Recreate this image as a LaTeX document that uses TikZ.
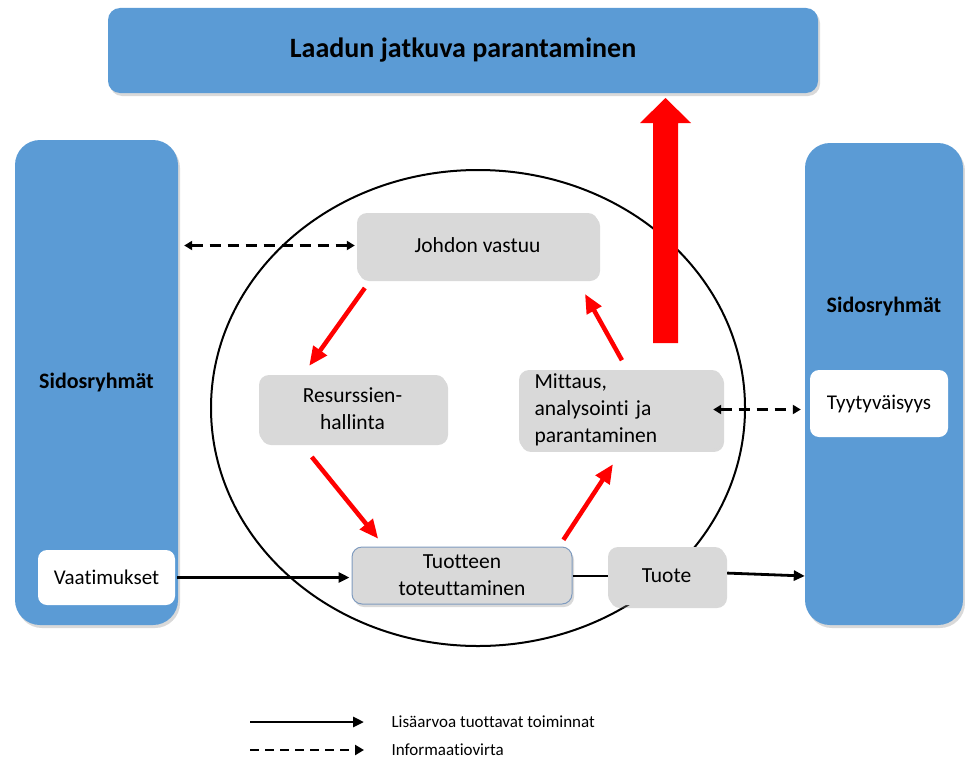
\documentclass[tikz,border=0pt]{standalone}
\usepackage{fontspec}
\setmainfont{Carlito}[Ligatures=NoCommon]
\usetikzlibrary{arrows.meta,shadows}
\usetikzlibrary{positioning,calc}
\definecolor{groupblue}{HTML}{5B9BD5}
\definecolor{boxgray}{HTML}{D9D9D9}
\definecolor{edgeblue}{HTML}{7F9BBF}

\begin{document}
\begin{tikzpicture}[x=1pt,y=-1pt]
	%defines
	\tikzstyle{quality} = [rectangle, rounded corners=12pt, minimum width=710pt, minimum height=85pt, text centered, fill=groupblue, drop shadow={shadow xshift=2pt, shadow yshift=-3pt, opacity=0.3}, font=\fontsize{28}{33}\selectfont\bfseries]
	\tikzstyle{group} = [rectangle, rounded corners=25pt, minimum width=163pt, minimum height=485pt, text centered, fill=groupblue, drop shadow={shadow xshift=2pt, shadow yshift=-3pt, opacity=0.3}, font=\fontsize{22}{26}\selectfont\bfseries]
	\tikzstyle{groupLabel} = [font=\fontsize{22}{26}\selectfont\bfseries]
	\tikzstyle{stakeholder} = [rectangle, rounded corners=9pt, minimum width=137pt, minimum height=55pt, text centered, fill=white, font=\fontsize{21}{26}\selectfont]
	\tikzstyle{process} = [rectangle, rounded corners=10pt, text centered, fill=boxgray, drop shadow={shadow xshift=2pt, shadow yshift=-3pt, opacity=0.3}, font=\fontsize{21.5}{27}\selectfont]
	\tikzstyle{legendText} = [anchor=west, font=\fontsize{17}{20}\selectfont]
	\tikzstyle{redarrow} = [line width=4.5pt, red, -{Triangle[length=19pt,width=16pt]}]
	\tikzstyle{flowarrow} = [line width=2.8pt, -{Triangle[length=11pt,width=10pt]}]
	\tikzstyle{infoarrow} = [line width=3pt, dash pattern=on 11pt off 7pt, {Triangle[length=8pt,width=9pt]}-{Triangle[length=8pt,width=9pt]}]
	\useasboundingbox (0,0) rectangle (965,760);
	%chart
	\node (quality) [quality] at (463,50.5) {Laadun jatkuva parantaminen};
	\node (leftGroup) [group] at (96.5,382.5) {Sidosryhmät};
	\node (rightGroup) [group, minimum width=158pt, minimum height=482pt] at (884,384) {};
	\node (rightLabel) [groupLabel] at (884,307) {Sidosryhmät};
	\node (needs) [stakeholder] at (106.5,577.5) {Vaatimukset};
	\node (satisfaction) [stakeholder, minimum width=138pt, minimum height=67pt] at (879,403.5) {Tyytyväisyys};
	% process circle
	\draw [line width=2pt] (478,408) ellipse [x radius=267, y radius=238];
	\node (management) [process, minimum width=241pt, minimum height=65pt] at (477.5,245.5) {Johdon vastuu};
	\node (resources) [process, minimum width=187pt, minimum height=67pt, align=center] at (352.5,408.5) {Resurssien-\\hallinta};
	\node (measurement) [process, text width=172pt, inner xsep=15.5pt, minimum height=75pt, align=left] at (620.5,409.5) {Mittaus,\\analysointi ja\\parantaminen};
	\node (realization) [process, minimum width=220pt, minimum height=57pt, align=center, draw=edgeblue, line width=1pt] at (462,575.5) {Tuotteen\\toteuttaminen};
	\node (product) [process, minimum width=117pt, minimum height=58pt] at (666.5,576) {Tuote};
	% improvement arrow
	\fill [red] (653,343) -- (653,123) -- (640,123) -- (665.5,98) -- (691,123) -- (678,123) -- (678,343) -- cycle;
	% cycle
	\draw [redarrow, shorten <=12pt, shorten >=11pt] ($(management.south west)+(15,0)$) -- ($(resources.north west)+(44,0)$);
	\draw [redarrow, shorten <=19pt, shorten >=10pt] ($(resources.south west)+(41,0)$) -- ($(realization.north west)+(33,0)$);
	\draw [redarrow, shorten <=8pt, shorten >=18pt] ($(realization.north east)+(-13.5,0)$) -- ($(measurement.south west)+(104,0)$);
	\draw [redarrow, shorten <=11pt, shorten >=18pt] ($(measurement.north west)+(108.5,0)$) -- ($(management.south east)+(-22,0)$);
	% flows
	\draw [infoarrow, shorten <=6pt, shorten >=2pt] (leftGroup.east |- management.west) -- (management.west);
	\draw [infoarrow, shorten <=-9pt, shorten >=9pt] (measurement.east) -- (measurement.east -| satisfaction.west);
	\draw [flowarrow, shorten <=2pt, shorten >=2pt] (needs.east) -- (needs.east -| realization.west);
	\draw [line width=2.2pt] (realization.east |- product.west) -- (product.west);
	\draw [flowarrow, shorten <=2pt] ($(product.east)+(0,-3)$) -- (product.east -| rightGroup.west);
	% legend
	\coordinate (solidStart) at (250,722);
	\coordinate (dashStart) at (250,750);
	\node (solidText) [legendText] at (388,722) {Lisäarvoa tuottavat toiminnat};
	\node (dashText) [legendText] at (388,750) {Informaatiovirta};
	\draw [flowarrow, shorten >=24pt] (solidStart) -- (solidText.west);
	\draw [line width=2.8pt, dash pattern=on 9pt off 6pt, -{Triangle[length=9pt,width=10pt]}, shorten >=24pt] (dashStart) -- (dashText.west);
\end{tikzpicture}
\end{document}
